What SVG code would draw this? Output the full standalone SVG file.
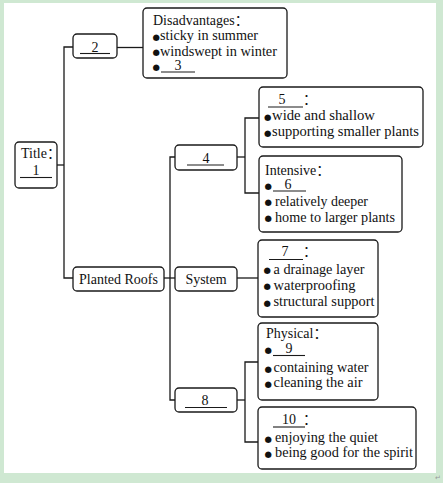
<svg xmlns="http://www.w3.org/2000/svg" width="443" height="483" viewBox="0 0 443 483">
  <style>
    .box { fill: #ffffff; stroke: #1a1a1a; stroke-width: 1.3; }
    .conn { fill: none; stroke: #1a1a1a; stroke-width: 1.3; }
    .ul { stroke: #1a1a1a; stroke-width: 1.1; }
    text { font-family: "Liberation Serif", "Noto Sans CJK SC", serif; font-size: 14px; fill: #111111; }
    .b { font-family: "DejaVu Sans", sans-serif; font-size: 8.5px; }
    .c { font-family: "Noto Sans CJK SC", "Liberation Serif", serif; }
    .mark { font-family: "DejaVu Sans", sans-serif; font-size: 7px; fill: #999999; }
  </style>
  <rect x="0" y="0" width="443" height="483" fill="#cfe8d2"/>
  <rect x="4" y="3" width="432" height="470" fill="#ffffff"/>
  <text class="mark" x="435" y="480">↵</text>

  <g id="connectors">
    <path class="conn" d="M73,47 H64 V278 H73"/>
    <path class="conn" d="M57,165 H64"/>
    <path class="conn" d="M117,47.5 H143"/>
    <path class="conn" d="M164,278 H175"/>
    <path class="conn" d="M175,157 H170 V400 H175"/>
    <path class="conn" d="M237,157 H245"/>
    <path class="conn" d="M259,118 H245 V193 H259"/>
    <path class="conn" d="M237,278 H258"/>
    <path class="conn" d="M237,400 H245"/>
    <path class="conn" d="M258,362 H245 V442 H258"/>
  </g>

  <g id="title">
    <rect class="box" x="15" y="142" width="42" height="46" rx="4"/>
    <text x="21" y="158">Title<tspan class="c">：</tspan></text>
    <text x="36" y="175" text-anchor="middle">1</text>
    <line class="ul" x1="20" y1="177.5" x2="52" y2="177.5"/>
  </g>

  <g id="node2">
    <rect class="box" x="73" y="34" width="44" height="24" rx="4"/>
    <text x="95" y="51.5" text-anchor="middle">2</text>
    <line class="ul" x1="80" y1="53.5" x2="110" y2="53.5"/>
  </g>

  <g id="disadvantages">
    <rect class="box" x="143" y="8" width="144" height="70" rx="4"/>
    <text x="153" y="25">Disadvantages<tspan class="c">：</tspan></text>
    <text class="b" x="152.5" y="39.5">●</text>
    <text x="160" y="40" textLength="98" lengthAdjust="spacingAndGlyphs">sticky in summer</text>
    <text class="b" x="152.5" y="55">●</text>
    <text x="160" y="55.5" textLength="117" lengthAdjust="spacingAndGlyphs">windswept in winter</text>
    <text class="b" x="152.5" y="69.5">●</text>
    <text x="178" y="70" text-anchor="middle">3</text>
    <line class="ul" x1="161" y1="72" x2="195" y2="72"/>
  </g>

  <g id="planted-roofs">
    <rect class="box" x="73" y="267" width="91" height="24" rx="4"/>
    <text x="118.5" y="284" text-anchor="middle">Planted Roofs</text>
  </g>

  <g id="node4">
    <rect class="box" x="175" y="145" width="62" height="25" rx="4"/>
    <text x="206" y="162.5" text-anchor="middle">4</text>
    <line class="ul" x1="187" y1="165" x2="224" y2="165"/>
  </g>

  <g id="system">
    <rect class="box" x="175" y="267" width="62" height="24" rx="4"/>
    <text x="206" y="284" text-anchor="middle">System</text>
  </g>

  <g id="node8">
    <rect class="box" x="175" y="388" width="62" height="24" rx="4"/>
    <text x="205" y="405" text-anchor="middle">8</text>
    <line class="ul" x1="185" y1="407.5" x2="227" y2="407.5"/>
  </g>

  <g id="node5">
    <rect class="box" x="259" y="87" width="164" height="60" rx="4"/>
    <text x="282" y="104" text-anchor="middle">5</text>
    <line class="ul" x1="268" y1="107" x2="303" y2="107"/>
    <text x="303" y="104" class="c">：</text>
    <text class="b" x="264" y="119.5">●</text>
    <text x="272" y="120" textLength="103" lengthAdjust="spacingAndGlyphs">wide and shallow</text>
    <text class="b" x="264" y="135.5">●</text>
    <text x="272" y="136" textLength="147" lengthAdjust="spacingAndGlyphs">supporting smaller plants</text>
  </g>

  <g id="intensive">
    <rect class="box" x="259" y="156" width="143" height="76" rx="4"/>
    <text x="265" y="175">Intensive<tspan class="c">：</tspan></text>
    <text class="b" x="264.5" y="188.5">●</text>
    <text x="288" y="189" text-anchor="middle">6</text>
    <line class="ul" x1="273" y1="191" x2="306" y2="191"/>
    <text class="b" x="264.5" y="205">●</text>
    <text x="275" y="205.5" textLength="93" lengthAdjust="spacingAndGlyphs">relatively deeper</text>
    <text class="b" x="264.5" y="221">●</text>
    <text x="275" y="221.5" textLength="120" lengthAdjust="spacingAndGlyphs">home to larger plants</text>
  </g>

  <g id="node7">
    <rect class="box" x="258" y="240" width="120" height="77" rx="4"/>
    <text x="285" y="256" text-anchor="middle">7</text>
    <line class="ul" x1="269" y1="259.5" x2="303" y2="259.5"/>
    <text x="303" y="256" class="c">：</text>
    <text class="b" x="263.5" y="273">●</text>
    <text x="273.5" y="273.5" textLength="91" lengthAdjust="spacingAndGlyphs">a drainage layer</text>
    <text class="b" x="263.5" y="289">●</text>
    <text x="273.5" y="289.5" textLength="82" lengthAdjust="spacingAndGlyphs">waterproofing</text>
    <text class="b" x="263.5" y="305.5">●</text>
    <text x="273.5" y="306" textLength="101" lengthAdjust="spacingAndGlyphs">structural support</text>
  </g>

  <g id="physical">
    <rect class="box" x="258" y="323" width="120" height="77" rx="4"/>
    <text x="266" y="338">Physical<tspan class="c">：</tspan></text>
    <text class="b" x="264.5" y="352.5">●</text>
    <text x="289" y="353" text-anchor="middle">9</text>
    <line class="ul" x1="273" y1="355.5" x2="305" y2="355.5"/>
    <text class="b" x="264.5" y="371.5">●</text>
    <text x="273.5" y="372" textLength="95" lengthAdjust="spacingAndGlyphs">containing water</text>
    <text class="b" x="264.5" y="386.5">●</text>
    <text x="273.5" y="387" textLength="89" lengthAdjust="spacingAndGlyphs">cleaning the air</text>
  </g>

  <g id="node10">
    <rect class="box" x="258" y="407" width="158" height="62" rx="4"/>
    <text x="289" y="424" text-anchor="middle">10</text>
    <line class="ul" x1="273" y1="427" x2="305" y2="427"/>
    <text x="303" y="424" class="c">：</text>
    <text class="b" x="264.5" y="441.5">●</text>
    <text x="275" y="442" textLength="103" lengthAdjust="spacingAndGlyphs">enjoying the quiet</text>
    <text class="b" x="264.5" y="456.5">●</text>
    <text x="275" y="457" textLength="138" lengthAdjust="spacingAndGlyphs">being good for the spirit</text>
  </g>
</svg>
